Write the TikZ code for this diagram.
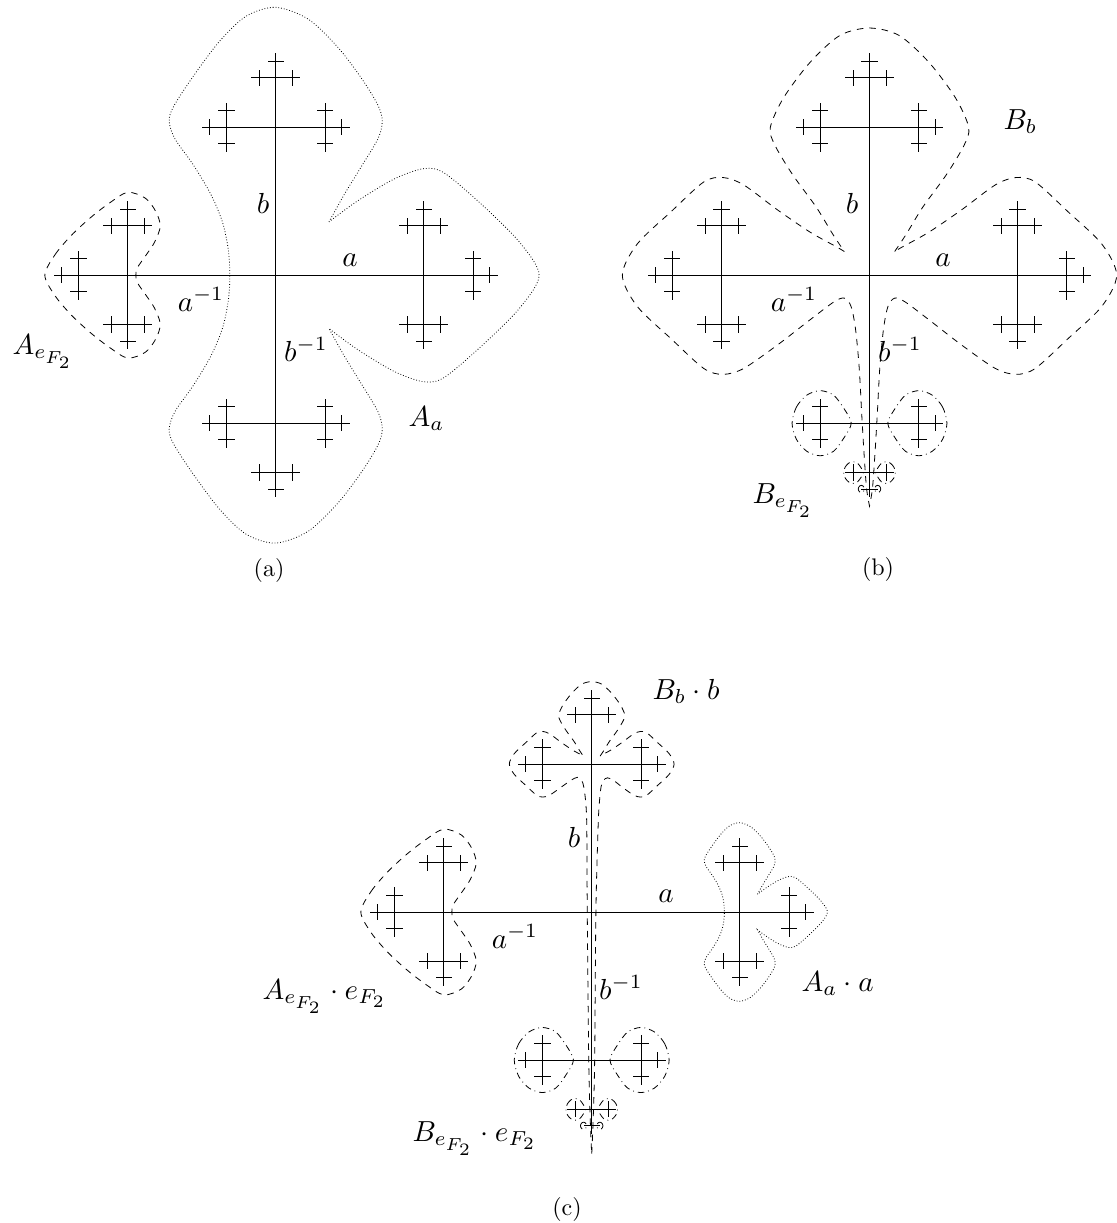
\documentclass[tikz,border=0pt]{standalone}
\DeclareMathSizes{10}{10}{7}{6}
\tikzset{
  treeline/.style={line width=0.9pt},
  dotblob/.style={line width=0.8pt, dash pattern=on 0.8pt off 2pt},
  dashblob/.style={line width=0.8pt, dash pattern=on 6.5pt off 6pt},
  dashdotblob/.style={line width=0.8pt, dash pattern=on 6.5pt off 4pt on 0.8pt off 4pt},
  lab/.style={inner sep=0pt, scale=2.9},
  captext/.style={inner sep=0pt, scale=2.4},
}
% Cayley graph of F_2, depth 4, edge lengths 1, 1/3, 1/9, 0.055
\newcommand\cayleytree{%
  \foreach \ia in {0,90,180,270}{%
    \draw[treeline] (0,0) -- (\ia:1);
    \foreach \ib in {0,90,180,270}{%
      \pgfmathtruncatemacro\dab{mod(\ib-\ia+360,360)}%
      \ifnum\dab=180 \else
        \draw[treeline] (\ia:1) -- ++(\ib:0.333333);
        \foreach \ic in {0,90,180,270}{%
          \pgfmathtruncatemacro\dbc{mod(\ic-\ib+360,360)}%
          \ifnum\dbc=180 \else
            \draw[treeline] (\ia:1) ++(\ib:0.333333) -- ++(\ic:0.111111);
            \foreach \id in {0,90,180,270}{%
              \pgfmathtruncatemacro\dcd{mod(\id-\ic+360,360)}%
              \ifnum\dcd=180 \else
                \draw[treeline] (\ia:1) ++(\ib:0.333333) ++(\ic:0.111111) -- ++(\id:0.055);
              \fi
            }%
          \fi
        }%
      \fi
    }%
  }%
}
% A_a (dotted)
\newcommand\AaBlob[1]{%
  \draw[#1] plot[smooth] coordinates {(0.36,-0.36) (0.46,-0.54) (0.57,-0.72) (0.69,-0.92) (0.72,-1.04) (0.69,-1.15) (0.58,-1.33) (0.42,-1.54) (0.22,-1.73) (0,-1.81) (-0.2,-1.75) (-0.38,-1.58) (-0.56,-1.34) (-0.69,-1.14) (-0.72,-1.04) (-0.68,-0.92) (-0.56,-0.75) (-0.44,-0.55) (-0.36,-0.36) (-0.32,-0.17) (-0.31,0) (-0.32,0.17) (-0.36,0.36) (-0.44,0.55) (-0.56,0.75) (-0.68,0.92) (-0.72,1.04) (-0.69,1.14) (-0.56,1.34) (-0.38,1.58) (-0.2,1.75) (0,1.81) (0.22,1.73) (0.42,1.54) (0.58,1.33) (0.69,1.15) (0.72,1.04) (0.69,0.92) (0.57,0.72) (0.46,0.54) (0.36,0.36)}
  -- plot[smooth] coordinates {(0.36,0.36) (0.55,0.50) (0.80,0.65) (1.0,0.72) (1.14,0.69) (1.40,0.47) (1.65,0.22) (1.78,0) (1.65,-0.22) (1.40,-0.47) (1.14,-0.69) (1.0,-0.72) (0.80,-0.65) (0.55,-0.50) (0.36,-0.36)} -- cycle;}
% A_e (dashed), relative to its node
\newcommand\AeBlob[1]{%
  \draw[#1] plot[smooth cycle] coordinates {(-0.56,0) (-0.49,-0.14) (-0.38,-0.27) (-0.25,-0.39) (-0.12,-0.49) (0,-0.56) (0.12,-0.52) (0.19,-0.43) (0.22,-0.33) (0.18,-0.22) (0.12,-0.13) (0.065,-0.05) (0.055,0) (0.065,0.05) (0.12,0.13) (0.18,0.22) (0.22,0.33) (0.19,0.43) (0.12,0.52) (0,0.56) (-0.12,0.49) (-0.25,0.39) (-0.38,0.27) (-0.49,0.14)};}
% B_b (dashed)
\newcommand\BbBlob[1]{%
  \draw[#1] plot[smooth] coordinates {(0.17,-0.16) (0.25,-0.28) (0.36,-0.46) (0.52,-0.68) (0.64,-0.88) (0.67,-1.0) (0.58,-1.2) (0.40,-1.44) (0.20,-1.62) (0,-1.67) (-0.20,-1.62) (-0.40,-1.44) (-0.58,-1.2) (-0.67,-1.0) (-0.64,-0.88) (-0.52,-0.68) (-0.36,-0.46) (-0.25,-0.28) (-0.17,-0.16)}
  -- plot[smooth] coordinates {(-0.17,-0.16) (-0.22,-0.19) (-0.40,-0.29) (-0.62,-0.44) (-0.85,-0.61) (-0.99,-0.66) (-1.12,-0.63) (-1.34,-0.43) (-1.57,-0.21) (-1.67,0) (-1.57,0.21) (-1.34,0.43) (-1.12,0.63) (-0.99,0.67) (-0.85,0.63) (-0.62,0.47) (-0.40,0.30) (-0.24,0.18) (-0.17,0.155) (-0.125,0.21) (-0.095,0.36) (-0.07,0.62) (-0.052,0.95) (-0.036,1.22) (-0.02,1.44) (0,1.56)}
  -- plot[smooth] coordinates {(0,1.56) (0.02,1.44) (0.036,1.22) (0.052,0.95) (0.07,0.62) (0.095,0.36) (0.125,0.21) (0.17,0.155) (0.24,0.18) (0.40,0.30) (0.62,0.47) (0.85,0.63) (0.99,0.67) (1.12,0.63) (1.34,0.43) (1.57,0.21) (1.67,0) (1.57,-0.21) (1.34,-0.43) (1.12,-0.63) (0.99,-0.66) (0.85,-0.61) (0.62,-0.44) (0.40,-0.29) (0.22,-0.19) (0.17,-0.16)} -- cycle;}
% B_b . b (dashed), in coordinates scaled by 3 about node b
\newcommand\BbbBlob[1]{%
  \draw[#1] plot[smooth] coordinates {(0.17,-0.16) (0.25,-0.28) (0.36,-0.46) (0.52,-0.68) (0.64,-0.88) (0.67,-1.0) (0.58,-1.2) (0.40,-1.44) (0.20,-1.62) (0,-1.67) (-0.20,-1.62) (-0.40,-1.44) (-0.58,-1.2) (-0.67,-1.0) (-0.64,-0.88) (-0.52,-0.68) (-0.36,-0.46) (-0.25,-0.28) (-0.17,-0.16)}
  -- plot[smooth] coordinates {(-0.17,-0.16) (-0.22,-0.19) (-0.40,-0.29) (-0.62,-0.44) (-0.85,-0.61) (-0.99,-0.66) (-1.12,-0.63) (-1.34,-0.43) (-1.57,-0.21) (-1.67,0) (-1.57,0.21) (-1.34,0.43) (-1.12,0.63) (-0.99,0.67) (-0.85,0.63) (-0.62,0.47) (-0.42,0.33) (-0.29,0.27) (-0.2,0.34) (-0.16,0.47) (-0.12,0.79) (-0.10,1.27) (-0.09,3.0) (-0.06,6.0) (-0.03,7.2) (0,7.92)}
  -- plot[smooth] coordinates {(0,7.92) (0.03,7.2) (0.06,6.0) (0.085,3.0) (0.13,1.27) (0.155,0.79) (0.19,0.46) (0.24,0.33) (0.32,0.28) (0.44,0.33) (0.62,0.47) (0.85,0.63) (0.99,0.67) (1.12,0.63) (1.34,0.43) (1.57,0.21) (1.67,0) (1.57,-0.21) (1.34,-0.43) (1.12,-0.63) (0.99,-0.66) (0.85,-0.61) (0.62,-0.44) (0.40,-0.29) (0.22,-0.19) (0.17,-0.16)} -- cycle;}
% one B_e piece (dash-dot), relative to its node, pointing left
\newcommand\BePiece[1]{%
  \draw[#1] plot[smooth cycle] coordinates {(-0.19,0) (-0.16,-0.11) (-0.09,-0.19) (0,-0.22) (0.09,-0.19) (0.16,-0.10) (0.21,0) (0.16,0.10) (0.09,0.19) (0,0.22) (-0.09,0.19) (-0.16,0.11)};}
\newcommand\BeAll{%
  \begin{scope}[shift={(-0.333333,1)}]\BePiece{dashdotblob}\end{scope}
  \begin{scope}[shift={(0.333333,1)},xscale=-1]\BePiece{dashdotblob}\end{scope}
  \begin{scope}[shift={(-0.111111,1.333333)},scale=0.333333]\BePiece{dashdotblob}\end{scope}
  \begin{scope}[shift={(0.111111,1.333333)},scale=0.333333,xscale=-1]\BePiece{dashdotblob}\end{scope}
  \begin{scope}[shift={(-0.055,1.444444)},scale=0.111111]\BePiece{dashdotblob}\end{scope}
  \begin{scope}[shift={(0.055,1.444444)},scale=0.111111,xscale=-1]\BePiece{dashdotblob}\end{scope}
}
\begin{document}
\begin{tikzpicture}[x=1pt,y=-1pt]
\useasboundingbox (0,0) rectangle (1116,1223);
% ---------------- (a)
\begin{scope}[shift={(275.7,275.2)},x=148pt,y=-148pt]
  \cayleytree
  \AaBlob{dotblob}
  \begin{scope}[shift={(-1,0)}]\AeBlob{dashblob}\end{scope}
\end{scope}
\node[lab,anchor=base] (la-b) at (263,213) {$b$};
\node[lab,anchor=base] (la-a) at (350,266) {$a$};
\node[lab,anchor=base] (la-ai) at (201,311) {$a^{-1}$};
\node[lab,anchor=base] (la-bi) at (306,361.5) {$b^{-1}$};
\node[lab,anchor=base west] (la-Ae) at (12,354) {$A_{e_{F_2}}$};
\node[lab,anchor=base west] (la-Aa) at (408,426.5) {$A_a$};
\node[captext,anchor=base] (cap-a) at (269,576) {(a)};
% ---------------- (b)
\begin{scope}[shift={(869.5,275.2)},x=148pt,y=-148pt]
  \cayleytree
  \BbBlob{dashblob}
  \BeAll
\end{scope}
\node[lab,anchor=base] (lb-b) at (852,213) {$b$};
\node[lab,anchor=base] (lb-a) at (943,266) {$a$};
\node[lab,anchor=base] (lb-ai) at (794,311) {$a^{-1}$};
\node[lab,anchor=base] (lb-bi) at (900,361.5) {$b^{-1}$};
\node[lab,anchor=base west] (lb-Bb) at (1003,129) {$B_b$};
\node[lab,anchor=base west] (lb-Be) at (752,503) {$B_{e_{F_2}}$};
\node[captext,anchor=base] (cap-b) at (878,575) {(b)};
% ---------------- (c)
\begin{scope}[shift={(591.7,912)},x=148pt,y=-148pt]
  \cayleytree
  \begin{scope}[shift={(-1,0)}]\AeBlob{dashblob}\end{scope}
  \begin{scope}[shift={(1,0)},scale=0.333333]\AaBlob{dotblob}\end{scope}
  \begin{scope}[shift={(0,-1)},scale=0.333333]\BbbBlob{dashblob}\end{scope}
  \BeAll
\end{scope}
\node[lab,anchor=base west] (lc-Bb) at (652,699) {$B_b\cdot b$};
\node[lab,anchor=base] (lc-b) at (574,847) {$b$};
\node[lab,anchor=base] (lc-a) at (666,902) {$a$};
\node[lab,anchor=base] (lc-ai) at (515,948) {$a^{-1}$};
\node[lab,anchor=base] (lc-bi) at (621,999) {$b^{-1}$};
\node[lab,anchor=base west] (lc-Ae) at (262,999) {$A_{e_{F_2}}\cdot e_{F_2}$};
\node[lab,anchor=base west] (lc-Aa) at (801,991) {$A_a\cdot a$};
\node[lab,anchor=base west] (lc-Be) at (412,1141) {$B_{e_{F_2}}\cdot e_{F_2}$};
\node[captext,anchor=base] (cap-c) at (567,1215) {(c)};
\end{tikzpicture}
\end{document}
